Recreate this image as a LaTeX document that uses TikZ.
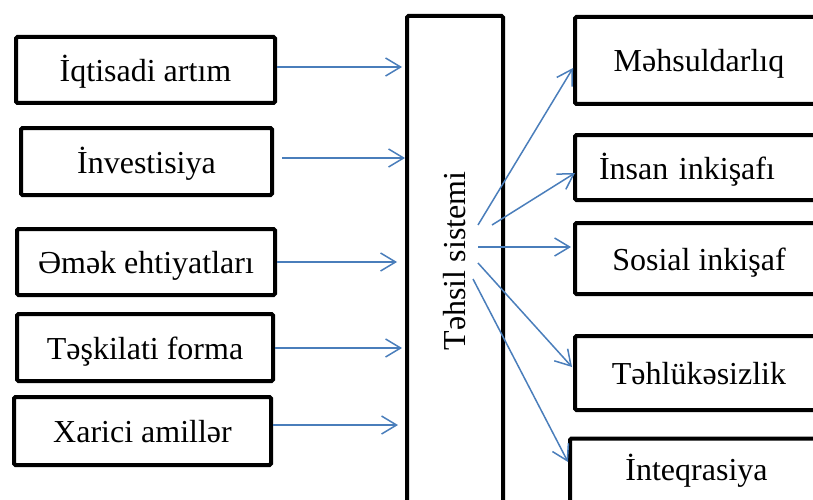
\documentclass[tikz,border=0pt]{standalone}
\usepackage{fontspec}
\usepackage{graphicx}
\setmainfont{Liberation Serif}
\usetikzlibrary{arrows.meta,calc}
\definecolor{arrowblue}{HTML}{4A7EBB}
\tikzset{
  box/.style={draw=black, line width=4pt, rounded corners=1.5pt, fill=white,
    inner sep=0pt, font=\fontsize{32}{36}\selectfont, text height=29pt, text depth=6pt},
  conn/.style={draw=arrowblue, line width=1.5pt, -{Straight Barb[length=15pt,width=18pt]}}
}
\begin{document}
\begin{tikzpicture}[x=1pt,y=-1pt]
\useasboundingbox (0,0) rectangle (813,500);
% left boxes
\node[box, minimum width=259pt, minimum height=66pt] (b1) at (145.5,70) {İqtisadi artım};
\node[box, minimum width=251pt, minimum height=67pt] (b2) at (146.5,161.5) {İnvestisiya};
\node[box, minimum width=258pt, minimum height=66pt] (b3) at (146,262) {Əmək ehtiyatları};
\node[box, minimum width=256pt, minimum height=67pt] (b4) at (145,347.5) {Təşkilati forma};
\node[box, minimum width=257pt, minimum height=68pt] (b5) at (142.5,431) {Xarici amillər};
% centre box
\node[box, minimum width=96pt, minimum height=490pt, text height={}, text depth={}] (c) at (455,261) {\rotatebox{90}{Təhsil sistemi}};
% right boxes
\node[box, minimum width=248pt, minimum height=87pt] (r1) at (699,60.5) {Məhsuldarlıq};
\node[box, minimum width=248pt, minimum height=65pt, text width=240pt, align=left] (r2) at (699,167.5) {\hspace*{20pt}İnsan inkişafı};
\node[box, minimum width=248pt, minimum height=71pt] (r3) at (699,258.5) {Sosial inkişaf};
\node[box, minimum width=248pt, minimum height=74pt] (r4) at (699,373) {Təhlükəsizlik};
\node[box, minimum width=253pt, minimum height=71pt, text depth=17pt] (r5) at (696.5,474) {İnteqrasiya};
% start points inside the centre box
\coordinate (s1) at (478,225);
\coordinate (s2) at (492,225);
\coordinate (s3) at (478,247);
\coordinate (s4) at (478,263);
\coordinate (s5) at (473,279);
% incoming arrows
\draw[conn, shorten >=3pt] ($(b1.east)+(0,-3)$) -- ($(b1.east -| c.west)+(0,-3)$);
\draw[conn, shorten <=8pt] ($(b2.east)+(0,-3.5)$) -- ($(b2.east -| c.west)+(0,-3.5)$);
\draw[conn, shorten >=8pt] (b3.east) -- (b3.east -| c.west);
\draw[conn, shorten >=3pt] ($(b4.east)+(0,0.5)$) -- ($(b4.east -| c.west)+(0,0.5)$);
\draw[conn, shorten >=7pt] ($(b5.east)+(0,-6)$) -- ($(b5.east -| c.west)+(0,-6)$);
% outgoing arrows
\draw[conn] (s1) -- ($(r1.west)+(0,7.5)$);
\draw[conn] (s2) -- ($(r2.west)+(2,5.5)$);
\draw[conn] (s3) -- ($(r3.west)+(-2,-11.5)$);
\draw[conn] (s4) -- ($(r4.west)+(-1,-6)$);
\draw[conn] (s5) -- ($(r5.west)+(0,-12)$);
\end{tikzpicture}
\end{document}
